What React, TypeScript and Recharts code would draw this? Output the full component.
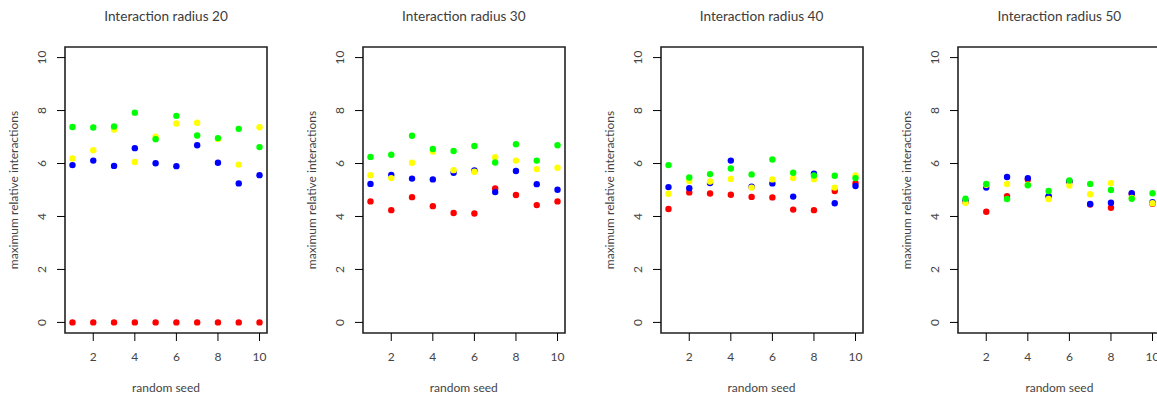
import React from 'react';
import { ScatterChart, Scatter, XAxis, YAxis, ReferenceArea } from 'recharts';

// random seeds on the x axis
const seeds = [1, 2, 3, 4, 5, 6, 7, 8, 9, 10];
const xTicks = [2, 4, 6, 8, 10];
const yTicks = [0, 2, 4, 6, 8, 10];

// interaction radius 20
const r20Red = [0, 0, 0, 0, 0, 0, 0, 0, 0, 0];
const r20Blue = [5.94, 6.11, 5.91, 6.58, 6.01, 5.9, 6.69, 6.03, 5.25, 5.56];
const r20Yellow = [6.19, 6.5, 7.28, 6.06, 7.01, 7.51, 7.54, 6.93, 5.96, 7.37];
const r20Green = [7.38, 7.36, 7.4, 7.92, 6.92, 7.8, 7.06, 6.96, 7.31, 6.62];

// interaction radius 30
const r30Red = [4.57, 4.24, 4.73, 4.39, 4.13, 4.11, 5.06, 4.81, 4.43, 4.57];
const r30Blue = [5.23, 5.57, 5.43, 5.4, 5.65, 5.74, 4.92, 5.72, 5.22, 5.01];
const r30Yellow = [5.56, 5.45, 6.03, 6.45, 5.75, 5.69, 6.24, 6.11, 5.79, 5.84];
const r30Green = [6.25, 6.33, 7.05, 6.55, 6.47, 6.66, 6.04, 6.73, 6.11, 6.69];

// interaction radius 40
const r40Red = [4.28, 4.91, 4.87, 4.82, 4.74, 4.72, 4.26, 4.24, 4.96, 5.26];
const r40Blue = [5.11, 5.07, 5.26, 6.11, 5.12, 5.25, 4.75, 5.62, 4.5, 5.15];
const r40Yellow = [4.86, 5.34, 5.32, 5.42, 5.09, 5.4, 5.45, 5.41, 5.09, 5.55];
const r40Green = [5.94, 5.47, 5.6, 5.81, 5.59, 6.15, 5.65, 5.55, 5.54, 5.45];

// interaction radius 50
const r50Red = [4.55, 4.18, 4.77, 5.4, 4.75, 5.31, 4.45, 4.33, 4.85, 4.48];
const r50Blue = [4.6, 5.09, 5.49, 5.45, 4.77, 5.33, 4.47, 4.52, 4.88, 4.54];
const r50Yellow = [4.52, 5.2, 5.23, 5.2, 4.66, 5.17, 4.84, 5.26, 4.7, 4.5];
const r50Green = [4.67, 5.23, 4.66, 5.18, 4.96, 5.36, 5.23, 5.0, 4.67, 4.88];

const panels = [
  { title: 'Interaction radius 20', series: [r20Red, r20Blue, r20Yellow, r20Green] },
  { title: 'Interaction radius 30', series: [r30Red, r30Blue, r30Yellow, r30Green] },
  { title: 'Interaction radius 40', series: [r40Red, r40Blue, r40Yellow, r40Green] },
  { title: 'Interaction radius 50', series: [r50Red, r50Blue, r50Yellow, r50Green] },
];

const seriesColors = ['#ff0000', '#0000ff', '#ffff00', '#00ff00'];

const FONT = 'Lato, "DejaVu Sans", sans-serif';
const TEXT = '#444';
const PANEL_W = 298;
const PANEL_STEP = 297.8;

const toPoints = (values: number[]) => seeds.map((s, i) => ({ seed: s, value: values[i] }));

const Dot = (props: any) => <circle cx={props.cx} cy={props.cy} r={3.2} fill={props.fill} />;

// R draws y tick labels parallel to the axis
const YTick = (props: any) => {
  const { x, y, payload } = props;
  return (
    <text
      x={x}
      y={y}
      transform={`rotate(-90, ${x}, ${y})`}
      textAnchor="middle"
      dy="0.35em"
      fill={TEXT}
      fontSize={12}
      fontFamily={FONT}
    >
      {payload.value}
    </text>
  );
};

const Panel: React.FC<{ title: string; series: number[][]; left: number }> = ({ title, series, left }) => (
  <div style={{ position: 'absolute', left, top: 0, width: PANEL_W, height: 398 }}>
    <div style={{ position: 'absolute', left: 46, top: 7, width: 240, textAlign: 'center', fontSize: 13.6, lineHeight: '18px', color: '#3c3c3c', fontFamily: FONT }}>
      {title}
    </div>
    <div
      style={{
        position: 'absolute', left: 14 - 150, top: 190 - 9, width: 300, height: 18, lineHeight: '18px',
        textAlign: 'center', transform: 'rotate(-90deg)', fontSize: 12, color: TEXT, fontFamily: FONT,
      }}
    >
      maximum relative interactions
    </div>
    <div style={{ position: 'absolute', left: 46, top: 380, width: 240, textAlign: 'center', fontSize: 12, lineHeight: '16px', color: TEXT, fontFamily: FONT }}>
      random seed
    </div>
    <ScatterChart width={PANEL_W} height={398} margin={{ top: 47, right: 31, bottom: 0, left: 0 }}>
      <XAxis
        type="number"
        dataKey="seed"
        domain={[0.64, 10.36]}
        ticks={xTicks}
        height={65}
        tickSize={8}
        tickMargin={11}
        axisLine={false}
        tickLine={{ stroke: '#000' }}
        tick={{ fill: TEXT, fontSize: 12, fontFamily: FONT }}
        allowDataOverflow
      />
      <YAxis
        type="number"
        dataKey="value"
        domain={[-0.4, 10.4]}
        ticks={yTicks}
        width={65}
        tickSize={8}
        tickMargin={15}
        axisLine={false}
        tickLine={{ stroke: '#000' }}
        tick={<YTick />}
        allowDataOverflow
      />
      <ReferenceArea x1={0.64} x2={10.36} y1={-0.4} y2={10.4} fill="none" stroke="#222" strokeWidth={1.6} ifOverflow="visible" />
      {series.map((values, i) => (
        <Scatter key={i} data={toPoints(values)} fill={seriesColors[i]} shape={<Dot />} isAnimationActive={false} />
      ))}
    </ScatterChart>
  </div>
);

export default function App() {
  return (
    <div style={{ position: 'absolute', left: 0, top: 0, width: 1157, height: 398, overflow: 'hidden', background: '#fff' }}>
      {panels.map((p, i) => (
        <Panel key={p.title} title={p.title} series={p.series} left={i * PANEL_STEP} />
      ))}
    </div>
  );
}
